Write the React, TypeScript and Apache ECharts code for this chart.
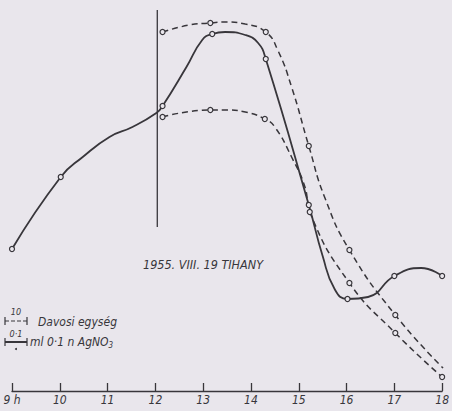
import React, { useEffect, useRef } from "react";
import * as echarts from "echarts";

// x = hours of day, y = relative reading (arbitrary units, 0 at time axis)
const hourTicks = [9, 10, 11, 12, 13, 14, 15, 16, 17, 18];

const solidHours = [9.0, 10.02, 10.48, 11.04, 11.52, 12.02, 12.15, 12.65, 12.98, 13.19, 13.46, 13.88, 14.15, 14.31, 15.21, 15.5, 15.75, 16.02, 16.45, 17.0, 17.56, 18.0];
const solidValues = [142, 214, 234, 254, 264, 278, 285, 324, 351, 357, 359, 356, 348, 332, 186, 135, 102, 92, 94, 115, 123, 115];
const solidMarked = [1, 1, 0, 0, 0, 0, 1, 0, 0, 1, 0, 0, 0, 1, 1, 0, 0, 1, 0, 1, 0, 1];

const upperHours = [12.15, 12.71, 13.15, 13.46, 13.88, 14.31, 14.56, 14.85, 15.21, 15.54, 16.06, 17.02, 18.02];
const upperValues = [359, 366, 368, 369, 367, 359, 341, 304, 245, 194, 141, 76, 23];
const upperMarked = [1, 0, 1, 0, 0, 1, 0, 0, 1, 0, 1, 1, 1];

const lowerHours = [12.15, 13.15, 13.46, 13.88, 14.29, 14.5, 14.85, 15.13, 15.23, 16.06, 17.02, 18.0];
const lowerValues = [274, 281, 281, 279, 272, 264, 234, 204, 179, 108, 58, 14];
const lowerMarked = [1, 1, 0, 0, 1, 0, 0, 0, 1, 1, 1, 1];

const dividerHours = [12.04, 12.04];
const dividerValues = [381, 164];

const title = "1955. VIII. 19 TIHANY";
const scaleTop = "10";
const scaleTopLabel = "Davosi egység";
const scaleBottom = "0·1";

const INK = "#38363b";
const BG = "#e9e6ec";
const FONT = "'DejaVu Sans Condensed', 'Liberation Sans Narrow', 'DejaVu Sans', sans-serif";

function build(hours: number[], values: number[], marked: number[]) {
  return hours.map((h, i) =>
    marked[i]
      ? { value: [h, values[i]] }
      : { value: [h, values[i]], symbol: "none" }
  );
}

export default function App() {
  const ref = useRef<HTMLDivElement>(null);
  useEffect(() => {
    if (!ref.current) return;
    const chart = echarts.init(ref.current, undefined, { renderer: "svg" });
    const markerStyle = { color: BG, borderColor: INK, borderWidth: 1.2 };
    chart.setOption({
      animation: false,
      backgroundColor: BG,
      grid: { left: 12, right: 8, top: 0, bottom: 20 },
      xAxis: {
        type: "value",
        min: 9,
        max: 18,
        interval: 1,
        splitLine: { show: false },
        axisLine: { lineStyle: { color: INK, width: 1.3 } },
        axisTick: { inside: true, length: 8, lineStyle: { color: INK, width: 1.3 } },
        axisLabel: {
          color: INK,
          fontFamily: FONT,
          fontStyle: "italic",
          fontSize: 12,
          margin: 3,
          formatter: (v: number) => (hourTicks.includes(v) ? (v === 9 ? "9 h" : String(v)) : ""),
        },
      },
      yAxis: { type: "value", min: 0, max: 391, show: false },
      series: [
        {
          type: "line",
          data: dividerHours.map((h, i) => [h, dividerValues[i]]),
          symbol: "none",
          lineStyle: { color: INK, width: 1.3 },
        },
        {
          type: "line",
          data: build(solidHours, solidValues, solidMarked),
          smooth: 0.5,
          symbol: "circle",
          symbolSize: 5,
          itemStyle: markerStyle,
          lineStyle: { color: INK, width: 1.8 },
        },
        {
          type: "line",
          data: build(upperHours, upperValues, upperMarked),
          smooth: 0.5,
          symbol: "circle",
          symbolSize: 5,
          itemStyle: markerStyle,
          lineStyle: { color: INK, width: 1.5, type: [6, 4] },
        },
        {
          type: "line",
          data: build(lowerHours, lowerValues, lowerMarked),
          smooth: 0.5,
          symbol: "circle",
          symbolSize: 5,
          itemStyle: markerStyle,
          lineStyle: { color: INK, width: 1.5, type: [6, 4] },
        },
      ],
      graphic: [
        {
          type: "text",
          left: 143,
          top: 258,
          style: { text: title, fill: INK, font: `italic 12.5px ${FONT}` },
        },
        // scale bar 1
        { type: "line", shape: { x1: 5, y1: 321, x2: 27, y2: 321 }, style: { stroke: INK, lineWidth: 1.2, lineDash: [4, 2] } },
        { type: "line", shape: { x1: 5, y1: 317, x2: 5, y2: 325 }, style: { stroke: INK, lineWidth: 1.2 } },
        { type: "line", shape: { x1: 27, y1: 317, x2: 27, y2: 325 }, style: { stroke: INK, lineWidth: 1.2 } },
        { type: "text", x: 16, y: 312, style: { text: scaleTop, fill: INK, font: `italic 9px ${FONT}`, align: "center", verticalAlign: "middle" } },
        { type: "text", x: 38, y: 322, style: { text: scaleTopLabel, fill: INK, font: `italic 12px ${FONT}`, verticalAlign: "middle" } },
        // scale bar 2
        { type: "line", shape: { x1: 5, y1: 342, x2: 27, y2: 342 }, style: { stroke: INK, lineWidth: 2 } },
        { type: "line", shape: { x1: 5, y1: 338, x2: 5, y2: 346 }, style: { stroke: INK, lineWidth: 1.2 } },
        { type: "line", shape: { x1: 27, y1: 338, x2: 27, y2: 346 }, style: { stroke: INK, lineWidth: 1.2 } },
        { type: "text", x: 16, y: 334, style: { text: scaleBottom, fill: INK, font: `italic 9px ${FONT}`, align: "center", verticalAlign: "middle" } },
        { type: "circle", shape: { cx: 16, cy: 349, r: 1 }, style: { fill: INK } },
        {
          type: "text",
          x: 30,
          y: 342,
          style: {
            text: "ml 0·1 n AgNO{sub|3}",
            fill: INK,
            font: `italic 12px ${FONT}`,
            verticalAlign: "middle",
            rich: { sub: { fontSize: 8, fontStyle: "italic", fontFamily: FONT, fill: INK, verticalAlign: "bottom", padding: [6, 0, 0, 0] } },
          },
        },
      ],
    });
    return () => chart.dispose();
  }, []);
  return (
    <div
      ref={ref}
      style={{ position: "fixed", left: 0, top: 0, width: 452, height: 411, background: BG }}
    />
  );
}
